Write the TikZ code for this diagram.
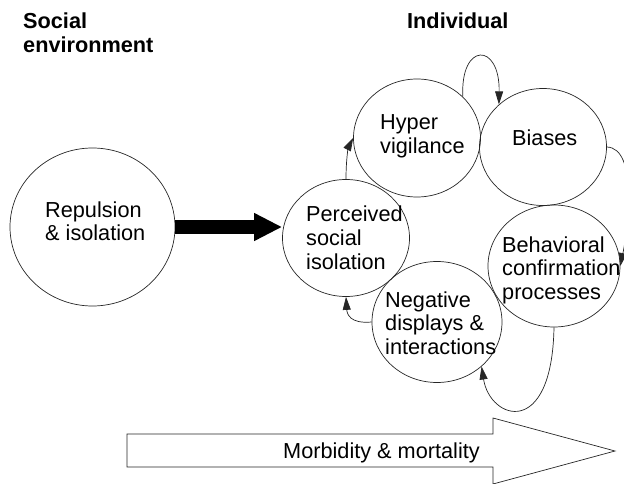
\documentclass[tikz,border=0pt]{standalone}
\usepackage{fontspec}
\setmainfont{Liberation Sans}
\usetikzlibrary{shapes.geometric,arrows.meta}
\begin{document}
\begin{tikzpicture}[x=1pt,y=-1pt,
  bub/.style={ellipse,draw=black!85,line width=0.7pt,inner sep=0pt},
  lbl/.style={anchor=base west,inner sep=0pt,font=\fontsize{21.7}{23.6}\selectfont},
  hdr/.style={anchor=base west,inner sep=0pt,font=\fontsize{21.7}{24}\selectfont\bfseries},
  conn/.style={draw=black!85,line width=0.7pt,-{Triangle[length=13pt,width=8pt]}}]
\useasboundingbox (0,0) rectangle (624,484);
% headers
\node[hdr] (soc) at (23,29) {\begin{tabular}[t]{@{}l@{}}Social\\ environment\end{tabular}};
\node[hdr] (ind) at (407,29) {Individual};
% bubbles
\node[bub,minimum width=165pt,minimum height=158pt] (r) at (92.5,227) {};
\node[bub,minimum width=127pt,minimum height=117pt] (p) at (346,238) {};
\node[bub,minimum width=127pt,minimum height=118pt] (h) at (417,138) {};
\node[bub,minimum width=127pt,minimum height=117pt] (b) at (543,147) {};
\node[bub,minimum width=132pt,minimum height=122pt] (bc) at (554,266) {};
\node[bub,minimum width=130pt,minimum height=121pt] (n) at (437,322) {};
% labels
\node[lbl] (rt) at (45,217) {\begin{tabular}[t]{@{}l@{}}Repulsion\\ \& isolation\end{tabular}};
\node[lbl] (pt) at (306,222) {\begin{tabular}[t]{@{}l@{}}Perceived\\ social\\ isolation\end{tabular}};
\node[lbl] (ht) at (380,130) {\begin{tabular}[t]{@{}l@{}}Hyper\\ vigilance\end{tabular}};
\node[lbl] (bt) at (512,146) {Biases};
\node[lbl] (bct) at (502,252) {\begin{tabular}[t]{@{}l@{}}Behavioral\\ confirmation\\ processes\end{tabular}};
\node[lbl] (nt) at (385,307) {\begin{tabular}[t]{@{}l@{}}Negative\\ displays \&\\ interactions\end{tabular}};
% thick arrow
\draw[line width=14pt,-{Triangle[length=28pt,width=26pt]}] (r.east) -- (r.east -| p.west);
% cycle connectors
\draw[conn] (p.north) .. controls (346,156) and (349,146) .. (h.west);
\draw[conn] (h.42) .. controls (460,42) and (500,42) .. (b.136);
\draw[conn] (b.east) .. controls (638,148) and (628,228) .. (bc.east);
\draw[conn] (bc.south) .. controls (552,440) and (490,420) .. (n.-45);
\draw[conn] (n.west) .. controls (350,324) and (347,314) .. (p.south);
% morbidity arrow
\draw[draw=black!85,line width=0.7pt] (127,434) -- (493,434) -- (493,418) -- (615,451) -- (493,484) -- (493,467) -- (127,467) -- cycle;
\node[lbl] (mm) at (283,458) {Morbidity \& mortality};
\end{tikzpicture}
\end{document}
